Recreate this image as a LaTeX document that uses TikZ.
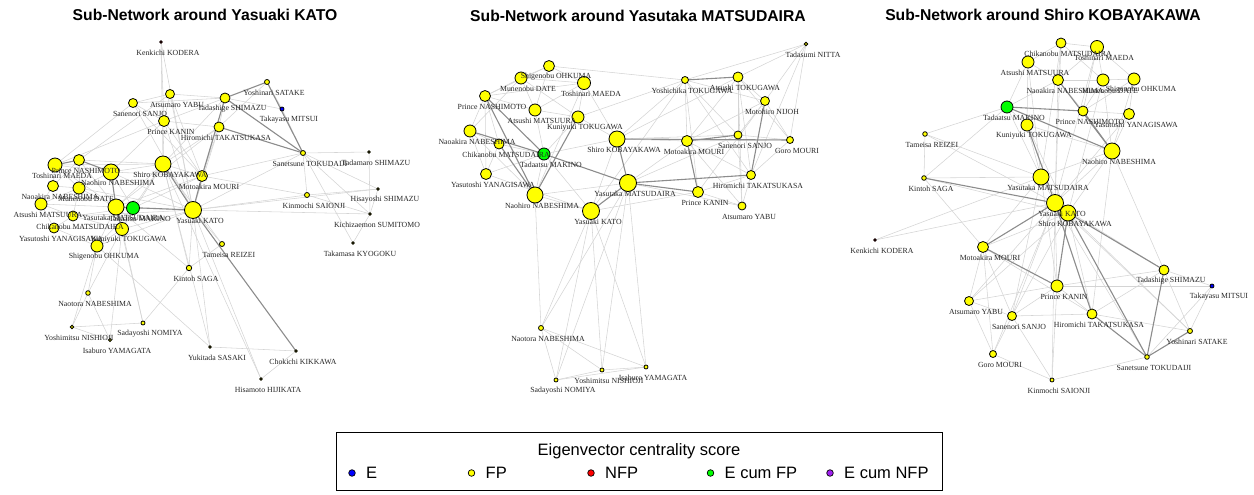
\documentclass[tikz,border=0pt]{standalone}
\usepackage{fontspec}
\setmainfont{Liberation Serif}
\newfontfamily\arialfont{Liberation Sans}

\pgfdeclarelayer{edges}
\pgfdeclarelayer{labels}
\pgfsetlayers{edges,main,labels}

\tikzset{
  person/.style={circle, draw=black, line width=0.8pt, inner sep=0pt, outer sep=0pt},
  who/.style={inner sep=0pt, font=\fontsize{7.8}{9}\selectfont, text=black!85},
  tie/.style={draw=black!17, line width=0.55pt},
  strongtie/.style={draw=black!45, line width=1.1pt},
  headline/.style={font=\arialfont\bfseries\fontsize{15.7}{18}\selectfont},
  keytext/.style={anchor=west, inner sep=0pt, font=\arialfont\fontsize{16.5}{19}\selectfont},
}

\begin{document}
\begin{tikzpicture}[x=1pt,y=-1pt]
        % Define colors
        \definecolor{e}{RGB}{0,0,255}     % blue
        \definecolor{fp}{RGB}{255,255,0}  % yellow
        \definecolor{nfp}{RGB}{255,0,0}   % red
        \definecolor{efp}{RGB}{0,255,0}   % green
        \definecolor{enfp}{RGB}{160,32,240} % purple

        \useasboundingbox (0,0) rectangle (1254,495);

        % Titles
        \node[headline] (L-title) at (205,15) {Sub-Network around Yasuaki KATO};
        \node[headline] (M-title) at (638,16) {Sub-Network around Yasutaka MATSUDAIRA};
        \node[headline] (R-title) at (1043,15) {Sub-Network around Shiro KOBAYAKAWA};

        % Draw vertices: left network
        \foreach \id/\px/\py/\rad/\col/\txt in {
          kato/193/210/8.5/fp/Yasuaki KATO,
          kobay/163/164/8/fp/Shiro KOBAYAKAWA,
          yasutaka/116/207/8/fp/Yasutaka MATSUDAIRA,
          makino/133/208/6.5/efp/Tadaatsu MAKINO,
          nabeN/111/172/8/fp/Naohiro NABESHIMA,
          maeda/55/165/7/fp/Toshinari MAEDA,
          nashi/79/160/5.5/fp/Prince NASHIMOTO,
          nabeA/53/186/5.5/fp/Naoakira NABESHIMA,
          date/79/188/6/fp/Munenobu DATE,
          matsuura/41/204/6/fp/Atsushi MATSUURA,
          chika/73/216/5/fp/Chikanobu MATSUDAIRA,
          yanagi/54/228/5/fp/Yasutoshi YANAGISAWA,
          kuni/122/229/6.5/fp/Kuniyuki TOKUGAWA,
          ohkuma/97/246/6/fp/Shigenobu OHKUMA,
          mouri/202/176/5.5/fp/Motoakira MOURI,
          kanin/164/121/5.5/fp/Prince KANIN,
          yabu/170/94/4.5/fp/Atsumaro YABU,
          sanjo/133/103/4.5/fp/Sanenori SANJO,
          takatsu/219/127/5/fp/Hiromichi TAKATSUKASA,
          tadashige/225/98/5/fp/Tadashige SHIMAZU,
          satake/267/82/2.5/fp/Yoshinari SATAKE,
          mitsui/282/109/2/e/Takayasu MITSUI,
          tokud/303/153/2.5/fp/Sanetsune TOKUDAIJI,
          saionji/307/195/2.5/fp/Kinmochi SAIONJI,
          tadamaro/369/152/1.3/fp/Tadamaro SHIMAZU,
          hisayoshi/378/189/1.3/fp/Hisayoshi SHIMAZU,
          sumitomo/370/214/1.3/fp/Kichizaemon SUMITOMO,
          kyogoku/353/243/1.3/fp/Takamasa KYOGOKU,
          kodera/161/42/1.3/nfp/Kenkichi KODERA,
          reizei/222/244/2.5/fp/Tameisa REIZEI,
          saga/189/268/2.7/fp/Kintoh SAGA,
          nabeT/88/293/2.3/fp/Naotora NABESHIMA,
          nishioji/72/327/1.8/fp/Yoshimitsu NISHIOJI,
          nomiya/143/323/2/fp/Sadayoshi NOMIYA,
          yamagata/110/340/1.5/fp/Isaburo YAMAGATA,
          sasaki/210/347/1.3/fp/Yukitada SASAKI,
          kikkawa/296/351/1.3/fp/Chokichi KIKKAWA,
          hijikata/261/379/1.3/fp/Hisamoto HIJIKATA}{
          \node[person, fill=\col, minimum size=2*\rad] (L-\id) at (\px,\py) {};
          \begin{pgfonlayer}{labels}
            \node[who] (L-\id-t) at (\px+7,\py+10.5) {\txt};
          \end{pgfonlayer}
        }

        % Draw vertices: middle network
        \foreach \id/\px/\py/\rad/\col/\txt in {
          nitta/806/44/1.8/fp/Tadasumi NITTA,
          ohkuma/549/66/5.5/fp/Shigenobu OHKUMA,
          date/521/78/6/fp/Munenobu DATE,
          maeda/584/83/6.5/fp/Toshinari MAEDA,
          yoshichika/685/80/3.5/fp/Yoshichika TOKUGAWA,
          atoku/738/77/5/fp/Atsushi TOKUGAWA,
          nijoh/765/101/4.5/fp/Motohiro NIJOH,
          nashi/485/96/5.5/fp/Prince NASHIMOTO,
          matsuura/535/110/6/fp/Atsushi MATSUURA,
          kuni/578/117/6/fp/Kuniyuki TOKUGAWA,
          nabeA/470/131/6/fp/Naoakira NABESHIMA,
          chika/499/144/5/fp/Chikanobu MATSUDAIRA,
          makino/544/154/6/efp/Tadaatsu MAKINO,
          kobay/617/139/8/fp/Shiro KOBAYAKAWA,
          mouri/687/141/5.5/fp/Motoakira MOURI,
          sanjo/738/135/4/fp/Sanenori SANJO,
          goro/790/140/3.5/fp/Goro MOURI,
          yanagi/486/174/5.5/fp/Yasutoshi YANAGISAWA,
          takatsu/751/175/4.5/fp/Hiromichi TAKATSUKASA,
          yasutaka/628/183/8.5/fp/Yasutaka MATSUDAIRA,
          nabeN/535/195/8/fp/Naohiro NABESHIMA,
          kanin/698/192/5.5/fp/Prince KANIN,
          yabu/742/206/4/fp/Atsumaro YABU,
          kato/591/211/8.5/fp/Yasuaki KATO,
          nabeT/541/328/2.5/fp/Naotora NABESHIMA,
          nishioji/602/370/2/fp/Yoshimitsu NISHIOJI,
          yamagata/646/367/2/fp/Isaburo YAMAGATA,
          nomiya/556/380/2/fp/Sadayoshi NOMIYA}{
          \node[person, fill=\col, minimum size=2*\rad] (M-\id) at (\px,\py) {};
          \begin{pgfonlayer}{labels}
            \node[who] (M-\id-t) at (\px+7,\py+10.5) {\txt};
          \end{pgfonlayer}
        }

        % Draw vertices: right network
        \foreach \id/\px/\py/\rad/\col/\txt in {
          chika/1061/43/5/fp/Chikanobu MATSUDAIRA,
          maeda/1097/47/6.5/fp/Toshinari MAEDA,
          matsuura/1028/62/6/fp/Atsushi MATSUURA,
          nabeA/1058/80/5.5/fp/Naoakira NABESHIMA,
          date/1103/80/6/fp/Munenobu DATE,
          ohkuma/1134/79/6/fp/Shigenobu OHKUMA,
          makino/1007/107/6/efp/Tadaatsu MAKINO,
          nashi/1083/111/5/fp/Prince NASHIMOTO,
          yanagi/1129/114/5.5/fp/Yasutoshi YANAGISAWA,
          kuni/1027/125/6/fp/Kuniyuki TOKUGAWA,
          reizei/925/134/2.3/fp/Tameisa REIZEI,
          nabeN/1112/151/8/fp/Naohiro NABESHIMA,
          saga/924/178/2.3/fp/Kintoh SAGA,
          yasutaka/1041/177/8/fp/Yasutaka MATSUDAIRA,
          kato/1055/203/8.5/fp/Yasuaki KATO,
          kobay/1068/213/8/fp/Shiro KOBAYAKAWA,
          kodera/875/240/1.3/nfp/Kenkichi KODERA,
          mouri/983/247/5.5/fp/Motoakira MOURI,
          tadashige/1164/270/5/fp/Tadashige SHIMAZU,
          mitsui/1212/286/2/e/Takayasu MITSUI,
          kanin/1057/286/6/fp/Prince KANIN,
          yabu/969/301/4.5/fp/Atsumaro YABU,
          sanjo/1012/316/4.5/fp/Sanenori SANJO,
          takatsu/1092/314/5/fp/Hiromichi TAKATSUKASA,
          satake/1190/331/2.5/fp/Yoshinari SATAKE,
          goro/993/354/3.5/fp/Goro MOURI,
          tokud/1147/357/2.3/fp/Sanetsune TOKUDAIJI,
          saionji/1052/380/2/fp/Kinmochi SAIONJI}{
          \node[person, fill=\col, minimum size=2*\rad] (R-\id) at (\px,\py) {};
          \begin{pgfonlayer}{labels}
            \node[who] (R-\id-t) at (\px+7,\py+10.5) {\txt};
          \end{pgfonlayer}
        }

        \begin{pgfonlayer}{edges}
        % Draw ties: left network
        \foreach \a/\b in {kodera/kanin, kodera/kato, kodera/kobay,
          sanjo/yabu, sanjo/kanin, sanjo/tadashige, sanjo/mouri, sanjo/maeda, sanjo/kato,
          yabu/tadashige, yabu/kanin, yabu/kato, yabu/nashi, yabu/mouri,
          kanin/takatsu, kanin/kobay, kanin/mouri, kanin/kato, kanin/maeda, kanin/nabeN, kanin/tadashige,
          takatsu/tadashige, takatsu/mouri, takatsu/kato, takatsu/satake, takatsu/kobay, takatsu/yasutaka,
          tadashige/kato, tadashige/kobay, satake/mitsui, mitsui/tadashige, mitsui/tokud,
          tokud/kato, tokud/saionji, tokud/tadamaro, tokud/sumitomo, tokud/mouri, tokud/hisayoshi,
          saionji/kato, saionji/sumitomo, saionji/hisayoshi, saionji/mouri,
          tadamaro/sumitomo, hisayoshi/sumitomo, hisayoshi/kato, sumitomo/kyogoku, sumitomo/kato, kyogoku/tokud,
          kobay/mouri, kobay/nabeN, kobay/yasutaka, kobay/makino, kobay/maeda, kobay/kuni, kobay/nashi,
          mouri/yasutaka, mouri/makino, mouri/nabeN,
          kato/makino, kato/kuni, kato/reizei, kato/saga, kato/sasaki, kato/hijikata, kato/ohkuma, kato/chika, kato/nabeN, kato/date,
          reizei/saga, reizei/kobay, saga/nomiya, saga/yasutaka, saga/kobay,
          nabeT/ohkuma, nabeT/nishioji, nabeT/yamagata, nabeT/kuni, nishioji/nomiya, nishioji/yamagata, nishioji/ohkuma,
          yamagata/kuni, nomiya/kuni, nomiya/yasutaka,
          sasaki/kikkawa, kikkawa/hijikata, sasaki/ohkuma, hijikata/kobay, sasaki/kobay,
          maeda/nabeA, maeda/nabeN, maeda/date, nashi/date, nashi/nabeA, nashi/yasutaka, nabeN/date, nabeN/makino,
          nabeA/matsuura, nabeA/date, date/matsuura, date/chika, date/yasutaka, matsuura/chika, matsuura/yanagi, matsuura/yasutaka,
          chika/yanagi, chika/kuni, yanagi/kuni, yanagi/ohkuma, ohkuma/kuni, ohkuma/yasutaka, ohkuma/makino, kuni/makino,
          chika/makino, maeda/yasutaka}
          \draw[tie] (L-\a) -- (L-\b);
        \foreach \a/\b in {satake/tokud, tadashige/tokud, takatsu/tokud, kato/kikkawa, tadashige/mouri, satake/tadashige,
          kato/mouri, kobay/kato, yasutaka/makino, nabeN/nashi, maeda/nashi, kuni/yasutaka, kato/yasutaka, yasutaka/nabeN}
          \draw[strongtie] (L-\a) -- (L-\b);

        % Draw ties: middle network
        \foreach \a/\b in {nitta/atoku, nitta/nijoh, nitta/takatsu, nitta/yoshichika, nitta/goro,
          ohkuma/date, ohkuma/maeda, ohkuma/yoshichika, ohkuma/nashi, ohkuma/matsuura,
          date/maeda, date/nashi, date/matsuura, date/nabeA, date/kuni,
          maeda/kuni, maeda/matsuura, maeda/nabeN, maeda/nashi, maeda/kobay,
          kuni/yoshichika, kuni/kobay, kuni/makino, kuni/matsuura,
          nashi/nabeA, nashi/matsuura, nashi/yanagi, nashi/chika,
          nabeA/chika, nabeA/yanagi, nabeA/nabeN,
          chika/makino, chika/yanagi, yanagi/makino, yanagi/kato,
          makino/kobay, makino/kato, matsuura/makino,
          kobay/mouri, kobay/kato, kobay/sanjo, kobay/atoku, kobay/yoshichika,
          mouri/yoshichika, mouri/atoku, mouri/goro, mouri/takatsu, mouri/yabu, mouri/nijoh, mouri/yasutaka,
          sanjo/atoku, sanjo/nijoh, sanjo/goro, sanjo/yoshichika, sanjo/yasutaka, sanjo/yabu,
          goro/nijoh, goro/atoku, goro/takatsu,
          takatsu/yabu, takatsu/atoku, takatsu/kanin, takatsu/yoshichika,
          kanin/yabu, kanin/yoshichika, kanin/kato, kanin/nijoh,
          yabu/atoku, yabu/yasutaka,
          nabeN/kato, nabeN/yasutaka, nabeN/nabeT, nabeN/makino,
          nabeT/kato, nabeT/yasutaka, nabeT/nishioji, nabeT/yamagata, nabeT/nomiya,
          nomiya/nishioji, nomiya/yamagata, nishioji/yamagata, nomiya/kato, nishioji/yasutaka, nishioji/kato,
          yamagata/yasutaka, yamagata/kato, nomiya/yasutaka,
          nijoh/yoshichika, atoku/nijoh, kato/yoshichika}
          \draw[tie] (M-\a) -- (M-\b);
        \foreach \a/\b in {kobay/goro, yoshichika/atoku, nashi/nabeN, nashi/makino, makino/yasutaka, nabeA/makino,
          kuni/nabeN, kobay/yasutaka, yasutaka/kato, mouri/kanin, kanin/yasutaka, takatsu/yasutaka, nijoh/takatsu,
          chika/nabeN, mouri/sanjo}
          \draw[strongtie] (M-\a) -- (M-\b);

        % Draw ties: right network
        \foreach \a/\b in {chika/maeda, chika/matsuura, chika/nabeA, chika/date, chika/kato, chika/yasutaka,
          maeda/date, maeda/ohkuma, maeda/nabeA, maeda/kato, maeda/nashi,
          matsuura/nabeA, matsuura/makino, matsuura/kuni, matsuura/yasutaka,
          nabeA/nashi, nabeA/date, nabeA/kato, nabeA/makino,
          date/nashi, date/ohkuma, date/nabeN, date/kobay,
          ohkuma/yanagi, ohkuma/nashi, ohkuma/nabeN,
          yanagi/nabeN, yanagi/nashi, yanagi/kato,
          makino/kuni, makino/yasutaka, makino/reizei, makino/saga,
          kuni/yasutaka, kuni/nabeN, kuni/kobay,
          nabeN/yasutaka, nabeN/kato, nabeN/takatsu, nabeN/tadashige, nabeN/kobay,
          reizei/saga, reizei/kato, reizei/yasutaka,
          saga/kobay, saga/yasutaka, saga/mouri,
          yasutaka/kato, yasutaka/kobay, yasutaka/mouri, yasutaka/kanin, yasutaka/sanjo,
          kodera/kato, kodera/yasutaka,
          mouri/kobay, mouri/yabu, mouri/goro, mouri/sanjo, mouri/takatsu,
          kanin/kato, kanin/yabu, kanin/saionji, kanin/takatsu, kanin/tadashige, kanin/sanjo, kanin/mitsui,
          yabu/sanjo, yabu/goro, yabu/kato,
          sanjo/goro, sanjo/kato, sanjo/takatsu, sanjo/kobay, sanjo/saionji,
          goro/saionji, goro/kato,
          saionji/tokud, saionji/kato,
          takatsu/satake, takatsu/tadashige, takatsu/kobay,
          tadashige/satake, tadashige/mitsui, tadashige/kato,
          mitsui/satake, mitsui/tokud,
          satake/kobay, kato/tokud, kobay/yabu, kato/satake}
          \draw[tie] (R-\a) -- (R-\b);
        \foreach \a/\b in {makino/nabeN, makino/nashi, saga/kato, mouri/kanin, kobay/tadashige, kobay/tokud,
          kato/takatsu, takatsu/tokud, tadashige/tokud, tokud/satake, kuni/kato, nabeA/nabeN, kobay/kanin,
          nashi/nabeN, mouri/kato}
          \draw[strongtie] (R-\a) -- (R-\b);
        \end{pgfonlayer}

        % Draw legend
        \node[draw=black, line width=0.9pt, minimum width=606, minimum height=58, inner sep=0pt] (legend) at (639,461) {};
        \node[font=\arialfont\fontsize{16.5}{19}\selectfont, inner sep=0pt] (legend-title) at (639,451) {Eigenvector centrality score};
        \foreach \k/\col/\txt in {0/e/E, 1/fp/FP, 2/nfp/NFP, 3/efp/E cum FP, 4/enfp/E cum NFP}{
          \node[person, fill=\col, minimum size=6.6, line width=0.7pt] (key-\k) at (352+119.5*\k,473) {};
          \node[keytext] (key-\k-t) at (366+119.5*\k,473) {\txt};
        }
    \end{tikzpicture}
\end{document}
